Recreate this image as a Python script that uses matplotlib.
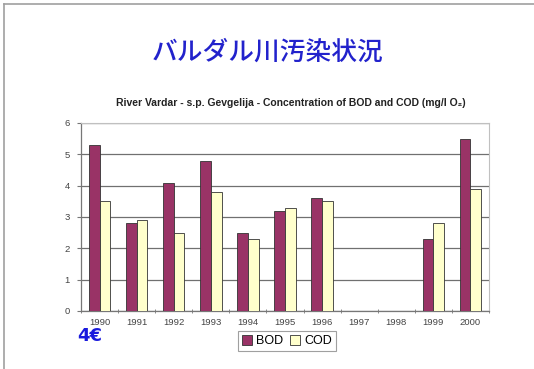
import numpy as np
import matplotlib
matplotlib.use("Agg")
import matplotlib.pyplot as plt
from matplotlib.patches import Patch
from matplotlib.lines import Line2D

years = ['1990', '1991', '1992', '1993', '1994', '1995', '1996', '1997', '1998', '1999', '2000']
bod = [5.3, 2.8, 4.1, 4.8, 2.5, 3.2, 3.6, np.nan, np.nan, 2.3, 5.5]
cod = [3.5, 2.9, 2.5, 3.8, 2.3, 3.3, 3.5, np.nan, np.nan, 2.8, 3.9]

title_jp = 'バルダル川汚染状況'
subtitle = 'River Vardar - s.p. Gevgelija - Concentration of BOD and COD (mg/l O\u2082)'

bod_color = '#993366'
cod_color = '#ffffcc'

plt.rcParams['font.family'] = ['Liberation Sans', 'DejaVu Sans']

fig = plt.figure(figsize=(5.34, 3.69), dpi=100)
fig.patch.set_facecolor('white')

# slide frame (top and left edges only)
fig.add_artist(Line2D([4/534, 1], [1-4/369, 1-4/369], color='#a0a0a0', lw=1.2))
fig.add_artist(Line2D([4/534, 4/534], [0, 1-4/369], color='#a0a0a0', lw=1.2))

fig.text(268/534, 1-52/369, title_jp, color='#2222cc', fontsize=18.5, fontweight='medium',
         family=['Noto Sans CJK JP', 'DejaVu Sans'], ha='center', va='center')
fig.text(291/534, 1-103/369, subtitle, fontsize=7.5, fontweight='bold',
         ha='center', va='center', color='#222222')

ax = fig.add_axes([81/534, 1-311/369, 408/534, 188/369])
x = np.arange(len(years))
w = 0.29
ax.bar(x - w/2, bod, w, color=bod_color, edgecolor='#333333', lw=0.6, zorder=3)
ax.bar(x + w/2, cod, w, color=cod_color, edgecolor='#333333', lw=0.6, zorder=3)

ax.set_xlim(-0.5, len(years) - 0.5)
ax.set_ylim(0, 6)
ax.set_yticks(range(0, 7))
ax.yaxis.grid(True, color='#707070', lw=0.9, zorder=0)
ax.set_xticks(x)
ax.set_xticklabels(years, fontsize=6.8, color='#444444')
ax.tick_params(axis='x', length=0, pad=5)
ax.set_xticks(np.arange(-0.5, len(years)), minor=True)
ax.tick_params(axis='x', which='minor', length=3, direction='inout', color='#777777')
ax.tick_params(axis='y', labelsize=6.8, labelcolor='#444444', length=3, color='#777777', pad=5)

for side in ['top', 'right']:
    ax.spines[side].set_color('#c0c0c0')
    ax.spines[side].set_linewidth(0.8)
for side in ['left', 'bottom']:
    ax.spines[side].set_color('#777777')
    ax.spines[side].set_linewidth(0.9)

handles = [Patch(facecolor=bod_color, edgecolor='#333333', lw=0.6),
           Patch(facecolor=cod_color, edgecolor='#333333', lw=0.6)]
leg = fig.legend(handles, ['BOD', 'COD'], loc='center', bbox_to_anchor=(287/534, 1-341/369),
                 ncol=2, fontsize=9, frameon=True, fancybox=False, handlelength=0.8,
                 handleheight=0.8, handletextpad=0.3, columnspacing=0.6, borderpad=0.3)
leg.get_frame().set_edgecolor('#888888')
leg.get_frame().set_linewidth(0.8)

fig.text(90/534, 1-336/369, '4\u20ac', color='#1a1add', fontsize=13, fontweight='bold',
         ha='center', va='center', family=['DejaVu Sans'])

fig.savefig('out.png', dpi=100)
